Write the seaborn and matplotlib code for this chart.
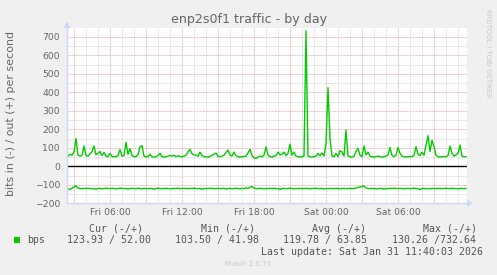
import matplotlib
matplotlib.use("Agg")
import matplotlib.pyplot as plt
import matplotlib.dates as mdates
from matplotlib.patches import Polygon, Rectangle
import numpy as np
import pandas as pd
import seaborn as sns

# ---------------- data (10-minute samples, Fri 02:30 -> Sat 11:40) ----------------
start_time = "2026-01-30 02:30"
n_points = 200

out_bps = [
    55, 65, 60, 78, 151, 60, 55, 60, 110, 58,
    55, 68, 80, 110, 62, 70, 80, 58, 75, 55,
    52, 70, 53, 52, 52, 58, 90, 55, 58, 130,
    65, 95, 58, 52, 52, 62, 105, 112, 55, 52,
    52, 65, 52, 50, 52, 58, 70, 52, 50, 52,
    55, 58, 55, 60, 52, 57, 53, 52, 55, 60,
    78, 92, 68, 62, 60, 55, 77, 58, 52, 52,
    50, 53, 60, 65, 72, 55, 52, 55, 60, 75,
    88, 60, 55, 77, 58, 52, 50, 52, 53, 55,
    72, 92, 58, 45, 42, 50, 55, 52, 60, 105,
    62, 52, 50, 55, 58, 77, 62, 65, 77, 58,
    70, 120, 60, 77, 55, 52, 50, 52, 55, 733,
    55, 52, 50, 53, 55, 70, 58, 72, 55, 120,
    425, 150, 55, 52, 70, 53, 85, 78, 55, 196,
    55, 52, 50, 55, 80, 97, 60, 52, 110, 62,
    77, 55, 52, 50, 52, 55, 52, 50, 52, 55,
    62, 102, 58, 52, 60, 102, 70, 55, 52, 50,
    52, 53, 52, 60, 106, 65, 58, 77, 60, 115,
    166, 80, 140, 107, 60, 52, 50, 52, 53, 52,
    58, 110, 70, 55, 62, 70, 115, 55, 52, 52,
]

in_bps = [
    -122, -125, -118, -112, -105, -118, -120, -121, -119, -120,
    -118, -121, -120, -122, -124, -120, -119, -121, -120, -118,
    -120, -121, -119, -120, -122, -120, -118, -119, -121, -120,
    -123, -120, -119, -120, -121, -118, -120, -122, -119, -120,
    -121, -120, -119, -124, -120, -118, -120, -121, -120, -119,
    -120, -122, -121, -119, -120, -118, -121, -120, -119, -120,
    -121, -119, -120, -118, -120, -121, -119, -125, -120, -121,
    -119, -120, -118, -122, -120, -119, -121, -120, -119, -123,
    -120, -119, -121, -120, -118, -120, -122, -119, -121, -116,
    -119, -114, -110, -118, -121, -120, -119, -120, -122, -120,
    -121, -119, -120, -118, -121, -120, -126, -120, -119, -121,
    -120, -118, -119, -122, -120, -121, -119, -120, -121, -119,
    -120, -122, -119, -120, -118, -121, -120, -119, -123, -120,
    -121, -119, -120, -121, -119, -120, -122, -120, -119, -121,
    -120, -119, -121, -120, -118, -114, -112, -110, -106, -118,
    -120, -121, -119, -120, -122, -121, -120, -119, -124, -120,
    -121, -119, -120, -118, -120, -121, -119, -120, -122, -120,
    -119, -121, -120, -118, -120, -121, -125, -120, -119, -121,
    -120, -122, -119, -120, -121, -120, -119, -121, -120, -118,
    -121, -120, -119, -120, -121, -122, -120, -119, -121, -120,
]

legend_headers = ["Cur (-/+)", "Min (-/+)", "Avg (-/+)", "Max (-/+)"]
stat_in = [123.93, 103.50, 119.78, 130.26]
stat_out = [52.00, 41.98, 63.85, 732.64]
series_label = "bps"
title = "enp2s0f1 traffic - by day"
ylabel = "bits in (-) / out (+) per second"
last_update = "Last update: Sat Jan 31 11:40:03 2026"
y_ticks = [-200, -100, 0, 100, 200, 300, 400, 500, 600, 700]

# ---------------- styling ----------------
W, H = 497, 275
BACK = "#F0F0F0"
FONT = "#666666"
AXIS = "#CFD6F8"
GREEN = "#00CC00"
MINOR = "#D4D4D4"
MAJOR = "#E8A8A8"

times = pd.date_range(start_time, periods=n_points, freq="10min")
df = pd.DataFrame({"time": times, "out": out_bps, "in": in_bps})

fig = plt.figure(figsize=(W / 100, H / 100), dpi=100, facecolor=BACK)
L, R, T, B = 67, 467, 28, 203.3
ax = fig.add_axes([L / W, 1 - B / H, (R - L) / W, (B - T) / H])
ax.set_facecolor("white")

sns.lineplot(data=df, x="time", y="out", color=GREEN, lw=1.0, ax=ax, zorder=5)
sns.lineplot(data=df, x="time", y="in", color=GREEN, lw=1.0, ax=ax, zorder=5)
ax.axhline(0, color="black", lw=1.0, zorder=4)

x0 = pd.Timestamp("2026-01-30 02:25")
x1 = pd.Timestamp("2026-01-31 11:45")
ax.set_xlim(x0, x1)
ax.set_ylim(-200, 748)

# grids
ax.xaxis.set_major_locator(mdates.HourLocator(byhour=range(0, 24, 3)))
ax.xaxis.set_minor_locator(mdates.HourLocator())


def fmt(x, pos=None):
    d = mdates.num2date(x)
    return d.strftime("%a %H:%M") if d.hour % 6 == 0 else ""


ax.xaxis.set_major_formatter(plt.FuncFormatter(fmt))
ax.set_yticks(y_ticks)
ax.set_yticks(np.arange(-150, 750, 100), minor=True)
dots = (0, (0.72, 0.72))
ax.grid(which="minor", color=MINOR, lw=0.72, ls=dots, zorder=1)
ax.grid(which="major", color=MAJOR, lw=0.72, ls=dots, zorder=2)
ax.set_axisbelow(True)

ax.tick_params(which="both", length=0, labelsize=6.7, labelcolor=FONT)
ax.tick_params(axis="y", pad=5)
ax.tick_params(axis="x", pad=3.6)
ax.set_xlabel("")
ax.set_ylabel("")

for s in ["top", "right"]:
    ax.spines[s].set_visible(False)
for s in ["left", "bottom"]:
    ax.spines[s].set_color(AXIS)
    ax.spines[s].set_linewidth(1.0)
    ax.spines[s].set_zorder(6)

# arrows (pixel coords -> figure fractions)
def fp(x, y):
    return (x / W, 1 - y / H)

fig.patches.append(Polygon([fp(63.5, 28), fp(70.5, 28), fp(67, 21.5)], closed=True,
                           facecolor=AXIS, edgecolor="none", transform=fig.transFigure))
fig.patches.append(Polygon([fp(467, 199.8), fp(467, 206.8), fp(473, 203.3)], closed=True,
                           facecolor=AXIS, edgecolor="none", transform=fig.transFigure))

# texts
fig.text(249 / W, 1 - 20 / H, title, ha="center", va="center", fontsize=9.1, color=FONT)
fig.text(11 / W, 1 - 114 / H, ylabel, ha="center", va="center", rotation=90,
         fontsize=7.9, color=FONT)
fig.text(488 / W, 1 - 53 / H, "RRDTOOL / TOBI OETIKER", ha="center", va="center",
         rotation=270, fontsize=5.0, color="#C8C8C8")

mono = "DejaVu Sans Mono"
LEG = "#555555"
header_x = [89.3, 201, 311.7, 422.7]
value_x = [66.7, 175, 283.3, 391.7]
for hx, h in zip(header_x, legend_headers):
    fig.text(hx / W, 1 - 228.5 / H, h, ha="left", va="center", fontsize=7.1,
             family=mono, color=LEG)
for vx, a, b in zip(value_x, stat_in, stat_out):
    fig.text(vx / W, 1 - 240 / H, "%6.2f /%6.2f" % (a, b), ha="left", va="center",
             fontsize=7.1, family=mono, color=LEG)
fig.patches.append(Rectangle(fp(14, 242.7), 6 / W, 5.6 / H, facecolor=GREEN,
                             edgecolor="none", transform=fig.transFigure))
fig.text(26.7 / W, 1 - 240 / H, series_label, ha="left", va="center", fontsize=7.1,
         family=mono, color=LEG)
fig.text(482.7 / W, 1 - 251.7 / H, last_update, ha="right", va="center", fontsize=7.1,
         family=mono, color=LEG)
fig.text(248 / W, 1 - 264.3 / H, "Munin 2.0.73", ha="center", va="center", fontsize=5.0,
         color="#C8C8C8")

fig.savefig("out.png", dpi=100, facecolor=BACK)
